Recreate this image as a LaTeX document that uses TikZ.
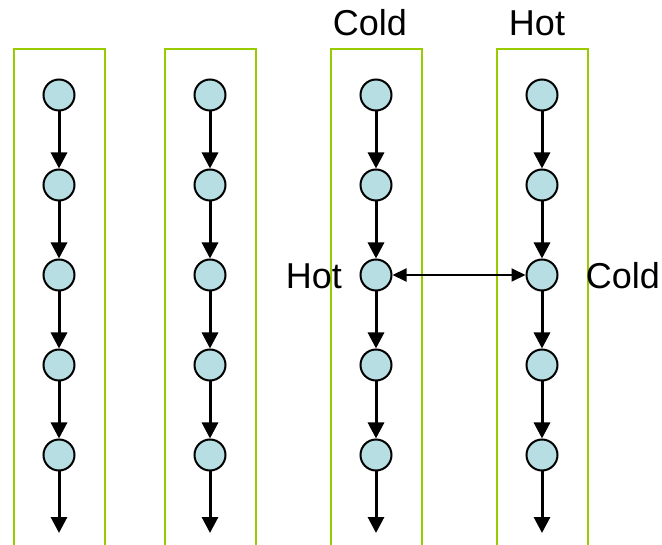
\documentclass[tikz,border=0pt]{standalone}
\usepackage{fontspec}
\setmainfont{Liberation Sans}
\usetikzlibrary{arrows.meta}

\definecolor{lanegreen}{RGB}{153,204,0}
\definecolor{stateblue}{RGB}{183,222,226}

\tikzset{
  state/.style={circle, draw, fill=stateblue, line width=2pt, minimum size=31pt, inner sep=0pt},
  flow/.style={line width=3pt, -{Triangle[width=16pt,length=16pt]}},
  swap/.style={line width=2pt, {Triangle[width=13pt,length=14pt]}-{Triangle[width=13pt,length=14pt]}},
  lane/.style={draw=lanegreen, line width=2.5pt},
  tag/.style={font=\fontsize{36}{40}\selectfont, inner sep=0pt}
}

\begin{document}
\begin{tikzpicture}[x=1pt,y=-1pt]
  \useasboundingbox (0,0) rectangle (662,545);
  \clip (0,0) rectangle (662,545);

  % four lanes, five states each, last arrow runs off the bottom
  \foreach \l/\x in {a/59, b/210, c/376, d/542} {
    \draw[lane] (\x-45,49) rectangle (\x+46,560);
    \foreach \i/\y in {1/95, 2/185, 3/275, 4/365, 5/455}
      \node[state] (\l\i) at (\x,\y) {};
    \coordinate (\l6) at (\x,533);
    \foreach \i/\j in {1/2, 2/3, 3/4, 4/5, 5/6}
      \draw[flow] (\l\i) -- (\l\j);
  }

  % exchange between the two right lanes
  \draw[swap] (c3) -- (d3);

  \node[tag] (coldc) at (370,23) {Cold};
  \node[tag] (hotd) at (537,23) {Hot};
  \node[tag] (hotc) at (314,276) {Hot};
  \node[tag] (coldd) at (623,276) {Cold};
\end{tikzpicture}
\end{document}
